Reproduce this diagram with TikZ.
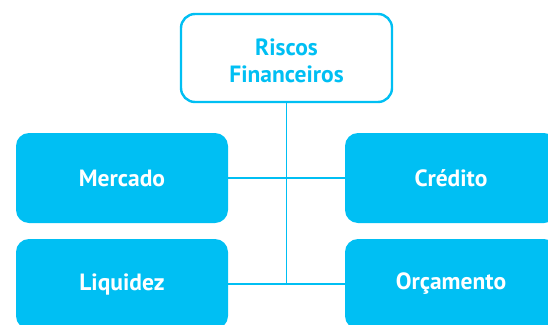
\documentclass[tikz,border=0pt]{standalone}
\usepackage{fontspec}
\setmainfont{PT Sans}
\definecolor{rcyan}{HTML}{00BFF3}
\begin{document}
\begin{tikzpicture}[x=1pt,y=-1pt,
  box/.style={fill=rcyan,rounded corners=13pt,minimum width=212pt,minimum height=90pt,inner sep=0pt,text=white,font=\fontsize{23.5}{27}\selectfont\bfseries},
  topbox/.style={draw=rcyan,line width=2.4pt,fill=white,rounded corners=14pt,minimum width=211pt,minimum height=88pt,inner sep=0pt,text=rcyan,align=center,font=\fontsize{23.5}{27}\selectfont\bfseries},
  link/.style={draw=rcyan,line width=1.8pt}]
\useasboundingbox (0,0) rectangle (548,324);
\clip (0,0) rectangle (548,324);
\node[topbox] (top) at (286.5,58) {};
\node[text=rcyan,align=center,font=\fontsize{23.5}{27}\selectfont\bfseries,inner sep=0pt] (toptext) at (286.5,60.5) {Riscos\\Financeiros};
\node[box] (merc) at (122,178) {Mercado};
\node[box] (cred) at (451,178) {Crédito};
\node[box] (liq) at (122,284) {Liquidez};
\node[box] (orc) at (451,284) {Orçamento};
\coordinate (j) at (top.south |- liq.east);
\draw[link] (merc.east) -- (cred.west);
\draw[link] (liq.east) -- (orc.west);
\draw[link] (top.south) -- (j);
\end{tikzpicture}
\end{document}
